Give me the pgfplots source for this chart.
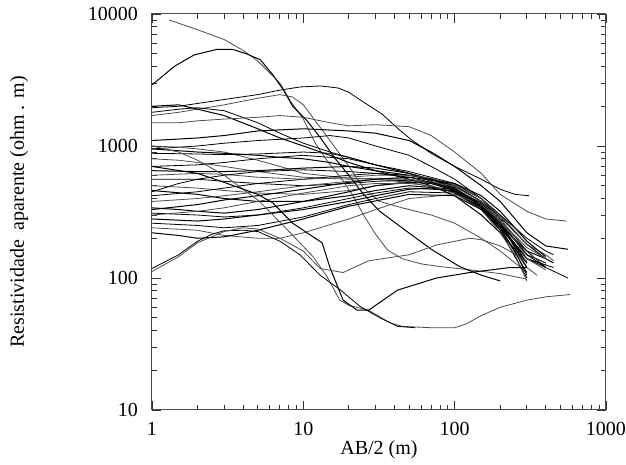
\documentclass[border=0pt]{standalone}
\usepackage{fontspec}
\setmainfont{Liberation Serif}
\usepackage{pgfplots}
\pgfplotsset{compat=1.18}
\begin{document}
\begin{tikzpicture}
\begin{axis}[
  xmode=log, ymode=log,
  scale only axis, width=227pt, height=198pt,
  xmin=1, xmax=1000, ymin=10, ymax=10000,
  xtick={1,10,100,1000}, xticklabels={1,10,100,1000},
  ytick={10,100,1000,10000}, yticklabels={10,100,1000,10000},
  minor xtick={2,3,4,5,6,7,8,9,20,30,40,50,60,70,80,90,200,300,400,500,600,700,800,900},
  minor ytick={20,30,40,50,60,70,80,90,200,300,400,500,600,700,800,900,2000,3000,4000,5000,6000,7000,8000,9000},
  tick align=inside, major tick length=4.5pt, minor tick length=2.5pt,
  tick style={black!80, line width=0.4pt},
  axis line style={black!70, line width=0.5pt},
  xticklabel style={yshift=-2.5pt},
  yticklabel style={xshift=-3.5pt},
  xlabel={AB/2 (m)}, ylabel={Resistividade~ aparente (ohm . m)},
  xlabel style={at={(axis description cs:0.5,-0.10)}, anchor=center},
  ylabel style={at={(axis description cs:-0.293,0.5)}, anchor=center, rotate=0},
  cycle list={{black!70, line width=0.5pt, mark=none}},
  no markers,
]
% C1
\addplot coordinates {(1.3,9000)(1.6,8300)(2,7600)(3,6400)(4,5300)(5,4400)(7,3000)(8.2,2200)(10,1600)(12,1050)(14.5,760)(18,560)(21,430)(25,300)(30,215)(36,163)(45,140)(60,128)(80,122)(120,116)(200,108)(300,98)};
% C2
\addplot coordinates {(1,2900)(1.4,4000)(1.9,4900)(2.7,5400)(3.4,5400)(4.2,5000)(5.2,4500)(6.3,3450)(7.4,2650)(8.5,2000)(10.6,1550)(13,1150)(16,820)(20,600)(25,430)(32,320)(46,235)(70,165)(108,122)(150,105)(200,95)};
% C3
\addplot coordinates {(1,1950)(1.5,2000)(2,2100)(3,2250)(5,2450)(7,2650)(9.5,2800)(13,2850)(17,2750)(20,2550)(25,2150)(33,1750)(43,1330)(52,1110)(70,880)(100,700)(150,560)(200,470)(250,430)(310,420)};
% C3b
\addplot coordinates {(1,1700)(1.5,1800)(2,1900)(3,2050)(5,2300)(7,2450)(8.5,2350)(10,2050)(12,1550)(15,1100)(20,700)(25,480)(32,380)(45,340)(70,300)(100,260)(150,200)(200,160)(300,110)};
% B1
\addplot coordinates {(1,2000)(1.5,2050)(2,1900)(3,1700)(5,1350)(7,1150)(10,1000)(15,850)(20,750)(30,650)(50,560)(70,500)(100,420)(150,300)(200,220)(300,130)};
% B2
\addplot coordinates {(1,1800)(1.5,1900)(2,1950)(3,1850)(5,1500)(7,1250)(10,1050)(15,900)(20,820)(30,720)(50,620)(70,540)(100,460)(150,340)(200,250)(300,140)(400,120)};
% B3
\addplot coordinates {(1,1500)(1.5,1500)(2,1550)(3,1600)(5,1650)(7,1700)(10,1650)(15,1500)(20,1420)(30,1450)(50,1400)(70,1200)(100,900)(150,620)(200,430)(300,320)(400,280)(550,270)};
% B4
\addplot coordinates {(1,1100)(2,1150)(3,1200)(5,1300)(10,1350)(20,1300)(30,1250)(50,1100)(70,900)(100,700)(150,500)(200,380)(300,220)(400,175)(560,165)};
% B5
\addplot coordinates {(1,950)(2,1000)(3,1050)(5,1100)(10,1150)(15,1200)(20,1150)(30,1000)(50,850)(70,700)(100,560)(150,400)(200,280)(300,160)(400,120)(560,100)};
% B6
\addplot coordinates {(1,1000)(1.5,980)(2,950)(3,900)(5,780)(7,700)(10,620)(20,570)(30,560)(50,530)(100,450)(150,330)(200,230)(300,120)(350,105)};
% D1
\addplot coordinates {(1,950)(2,900)(3,880)(5,850)(7,820)(10,800)(15,750)(20,700)(30,650)(50,600)(70,560)(100,500)(150,380)(200,270)(300,150)(400,130)};
% D2
\addplot coordinates {(1,880)(2,870)(3,860)(5,870)(10,900)(15,880)(20,820)(30,720)(50,620)(70,560)(100,480)(150,350)(200,240)(300,110)};
% D3
\addplot coordinates {(1,800)(1.5,780)(2,750)(3,700)(5,640)(10,580)(20,560)(30,570)(50,560)(70,520)(100,460)(150,350)(200,250)(300,140)(400,125)};
% D4
\addplot coordinates {(1,650)(2,640)(3,640)(5,650)(10,680)(20,700)(30,680)(50,620)(100,500)(150,380)(200,290)(300,180)(400,140)};
% D5
\addplot coordinates {(1,560)(2,560)(3,540)(5,520)(10,500)(20,520)(30,540)(50,550)(70,530)(100,470)(150,360)(200,260)(300,130)};
% D6
\addplot coordinates {(1,500)(2,480)(3,460)(5,440)(10,430)(20,460)(30,500)(50,540)(70,540)(100,490)(150,380)(200,270)(300,150)(400,130)};
% D7
\addplot coordinates {(1,460)(2,430)(3,400)(5,380)(10,380)(20,420)(30,460)(50,500)(100,470)(150,370)(200,260)(300,120)};
% D8
\addplot coordinates {(1,420)(2,450)(3,480)(5,520)(10,560)(20,600)(30,620)(50,600)(70,560)(100,480)(150,360)(200,250)(300,140)(450,120)};
% D9
\addplot coordinates {(1,380)(2,400)(3,420)(5,450)(10,500)(20,540)(30,560)(50,560)(100,500)(150,400)(200,300)(300,180)(400,150)(450,135)};
% D10
\addplot coordinates {(1,340)(1.5,330)(2,320)(3,310)(5,330)(10,380)(20,450)(30,500)(50,530)(70,520)(100,460)(150,340)(200,230)(300,100)};
% D11
\addplot coordinates {(1,310)(2,300)(3,290)(5,300)(10,340)(20,400)(30,440)(50,480)(100,460)(150,360)(200,260)(300,150)(400,120)};
% D12
\addplot coordinates {(1,300)(2,320)(3,340)(5,380)(10,440)(20,500)(30,520)(50,520)(70,500)(100,440)(150,330)(200,220)(250,150)(300,95)};
% D13
\addplot coordinates {(1,280)(2,270)(3,280)(5,300)(10,330)(20,380)(30,420)(50,470)(70,480)(100,450)(150,350)(200,250)(300,160)(400,140)(450,130)};
% D14
\addplot coordinates {(1,260)(2,250)(3,240)(5,250)(10,290)(20,360)(30,400)(50,450)(100,440)(150,340)(200,250)(300,130)};
% D15
\addplot coordinates {(1,240)(2,230)(3,210)(5,200)(7,200)(10,220)(20,280)(30,330)(50,400)(100,430)(150,360)(200,270)(300,170)(400,140)};
% D16
\addplot coordinates {(1,220)(1.5,210)(2,200)(3,205)(5,230)(10,280)(20,350)(50,430)(100,420)(150,330)(200,240)(300,140)};
% D19
\addplot coordinates {(1,700)(2,720)(3,750)(5,800)(10,850)(20,800)(30,720)(50,640)(100,520)(150,400)(200,300)(300,200)(400,160)(450,150)};
% D20
\addplot coordinates {(1,600)(2,620)(3,610)(5,580)(10,560)(20,580)(30,600)(50,600)(70,570)(100,510)(150,400)(200,290)(300,140)(400,115)};
% D21
\addplot coordinates {(1,330)(2,360)(3,390)(5,420)(10,470)(20,530)(30,560)(50,580)(100,520)(150,420)(200,320)(300,190)(400,145)};
% D22
\addplot coordinates {(1,450)(1.5,520)(2,560)(3,600)(5,640)(10,660)(20,640)(30,620)(50,580)(100,480)(150,350)(200,240)(250,160)(300,105)};
% S1
\addplot coordinates {(1,1000)(1.5,900)(2,780)(3,600)(4,470)(5,390)(5.8,330)(8.2,220)(11.6,145)(14.3,103)(17.4,68)(20,62)(27,57)(37,46)(45,43)(70,42)(100,42)(120,45)(150,52)(200,60)(300,68)(400,72)(580,75)};
% S2
\addplot coordinates {(1,700)(2,620)(3,530)(5,430)(6.3,370)(8.5,260)(11.6,205)(13.3,185)(15,120)(18.3,68)(22.7,57)(27,57)(42,81)(76,100)(126,110)(232,120)(300,120)};
% S3
\addplot coordinates {(1,118)(1.5,150)(2,190)(2.5,215)(3,228)(4,230)(5,225)(7,190)(9.5,150)(12.9,105)(17.4,82)(23.7,61)(32,50)(42,43)(55,42)};
% R1
\addplot coordinates {(1,112)(1.5,145)(2,185)(3,225)(4,240)(5,235)(7,200)(10,160)(12.9,118)(18.3,110)(27,135)(50,150)(76,178)(126,200)(150,195)(200,175)(300,135)};
\end{axis}
\pgfresetboundingbox
\path[use as bounding box] (-76pt,-27.5pt) rectangle (237pt,205pt);
\end{tikzpicture}
\end{document}
